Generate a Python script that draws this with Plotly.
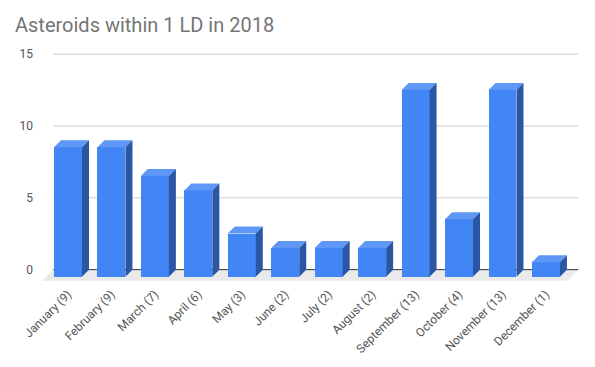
import plotly.graph_objects as go

months = ["January", "February", "March", "April", "May", "June", "July",
          "August", "September", "October", "November", "December"]
counts = [9, 9, 7, 6, 3, 2, 2, 2, 13, 4, 13, 1]
tick_labels = [f"{m} ({c})" for m, c in zip(months, counts)]
y_ticks = [0, 5, 10, 15]

# 3D look parameters (in axis units)
BW = 0.644      # bar face width
DX = 0.161      # depth offset x
DY = 0.487      # depth offset y
FDX = 0.253     # floor depth x
FDY = 0.766     # floor depth y

FRONT = "#4285F4"
TOP = "#5E97F6"
SIDE = "#2B56A3"

idx = list(range(len(counts)))

fig = go.Figure()

# front faces
fig.add_trace(go.Bar(
    x=[i - DX for i in idx], y=counts, base=[-DY] * len(counts), width=BW,
    marker=dict(color=FRONT, line=dict(width=0)), hoverinfo="skip",
    showlegend=False))

# top faces
tx, ty = [], []
for i, v in zip(idx, counts):
    x0 = i - DX - BW / 2
    x1 = i - DX + BW / 2
    tx += [x0, x1, x1 + DX, x0 + DX, x0, None]
    ty += [v - DY, v - DY, v, v, v - DY, None]
fig.add_trace(go.Scatter(x=tx, y=ty, mode="lines", fill="toself",
                         fillcolor=TOP, line=dict(width=0, color=TOP),
                         hoverinfo="skip", showlegend=False))

# side faces
sx, sy = [], []
for i, v in zip(idx, counts):
    x1 = i - DX + BW / 2
    sx += [x1, x1, x1 + DX, x1 + DX, x1, None]
    sy += [-DY, v - DY, v, 0, -DY, None]
fig.add_trace(go.Scatter(x=sx, y=sy, mode="lines", fill="toself",
                         fillcolor=SIDE, line=dict(width=0, color=SIDE),
                         hoverinfo="skip", showlegend=False))

n = len(counts)
xl, xr = -0.5, n - 0.5 + 0.08
shapes = []
# floor
shapes.append(dict(type="path", xref="x", yref="y", layer="below",
                   path=f"M {xl},0 L {xr},0 L {xr - FDX},{-FDY} L {xl - FDX},{-FDY} Z",
                   fillcolor="#EAEAEA", line=dict(width=0)))
# gridlines
for t in y_ticks[1:]:
    shapes.append(dict(type="line", xref="x", yref="y", layer="below",
                       x0=xl, x1=xr, y0=t, y1=t,
                       line=dict(color="#CCCCCC", width=1)))
# zero line
shapes.append(dict(type="line", xref="x", yref="y", layer="below",
                   x0=xl, x1=xr, y0=0, y1=0,
                   line=dict(color="#333333", width=1)))

fig.update_layout(
    width=595, height=367,
    margin=dict(l=30, r=13, t=39, b=91),
    paper_bgcolor="white", plot_bgcolor="white",
    font=dict(family="Roboto, Arial, sans-serif", color="#555555", size=12),
    title=dict(text="Asteroids within 1 LD in 2018",
               font=dict(family="Roboto, Arial, sans-serif", size=20, color="#757575"),
               x=7 / 595, xanchor="left", xref="container",
               y=1 - 17 / 367, yanchor="middle", yref="container"),
    shapes=shapes,
    bargap=0,
    xaxis=dict(range=[-0.8515, 11.853], tickvals=[i - DX for i in idx],
               ticktext=tick_labels,
               tickangle=-45, showgrid=False, zeroline=False, showline=False,
               ticks="", tickfont=dict(size=12, color="#555555")),
    yaxis=dict(range=[-1, 15.5], tickvals=y_ticks, showgrid=False,
               zeroline=False, showline=False, ticks="", ticklabelstandoff=4,
               tickfont=dict(size=12, color="#555555")),
)

fig.write_html("out.html")
